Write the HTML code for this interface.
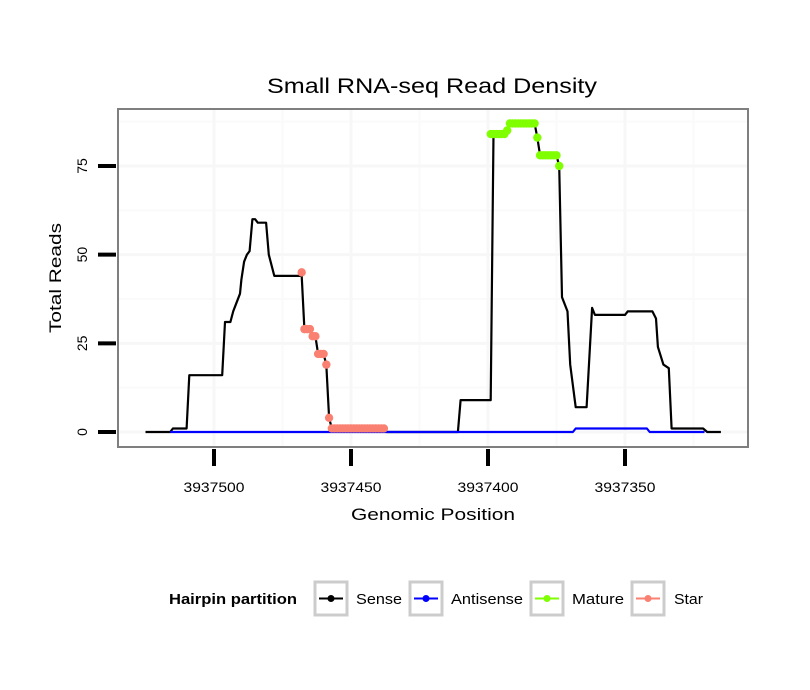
<!DOCTYPE html>
<html><head><meta charset="utf-8"><style>
body{margin:0;background:#fff;width:810px;height:690px;overflow:hidden}
svg{display:block;font-family:"Liberation Sans",sans-serif}
</style></head><body>
<svg id="chart" width="810" height="690">
<rect x="0" y="0" width="810" height="690" fill="#fff"/>
<text x="432" y="93" text-anchor="middle" font-size="21" textLength="330" lengthAdjust="spacingAndGlyphs" fill="#000">Small RNA-seq Read Density</text>
<text x="433" y="520" text-anchor="middle" font-size="17" textLength="164" lengthAdjust="spacingAndGlyphs" fill="#000">Genomic Position</text>
<text transform="translate(61,278) rotate(-90)" text-anchor="middle" font-size="17" textLength="110" lengthAdjust="spacingAndGlyphs" fill="#000">Total Reads</text>
<g id="legend">
<text x="169" y="604" font-size="14.5" font-weight="bold" textLength="128" lengthAdjust="spacingAndGlyphs">Hairpin partition</text>
</g>
</svg>
<script>
const senseX=[3937525,3937516,3937515,3937510,3937509,3937497,3937496,3937494,3937493,3937492,3937490.5,3937490,3937489,3937488,3937487,3937486,3937485,3937484,3937481,3937480,3937478,3937468,3937467,3937465,3937464,3937463,3937462,3937460,3937459,3937458,3937457,3937438,3937437,3937411,3937410,3937399,3937398,3937393,3937392,3937383,3937382,3937381,3937375,3937374,3937373,3937371,3937370,3937368,3937364,3937362,3937361,3937350,3937349,3937340,3937338.7,3937338,3937336,3937334,3937333,3937321.5,3937320,3937315];
const senseY=[0,0,1,1,16,16,31,31,34,36,39,43,48,50,51,60,60,59,59,50,44,44,29,29,27,27,22,22,19,4,1,1,0,0,9,9,84,84,87,87,83,78,78,75,38,34,19,7,7,35,33,33,34,34,32,24,19,18,1,1,0,0];
const antiX=[3937516,3937369,3937368,3937342,3937341,3937321];
const antiY=[0,0,1,1,0,0];
const starX=[3937468,3937467,3937466,3937465,3937464,3937463,3937462,3937461,3937460,3937459,3937458,3937457,3937456,3937455,3937454,3937453,3937452,3937451,3937450,3937449,3937448,3937447,3937446,3937445,3937444,3937443,3937442,3937441,3937440,3937439,3937438];
const starY=[45,29,29,29,27,27,22,22,22,19,4,1,1,1,1,1,1,1,1,1,1,1,1,1,1,1,1,1,1,1,1];
const matX=[3937399,3937398,3937397,3937396,3937395,3937394,3937393,3937392,3937391,3937390,3937389,3937388,3937387,3937386,3937385,3937384,3937383,3937382,3937381,3937380,3937379,3937378,3937377,3937376,3937375,3937374];
const matY=[84,84,84,84,84,84,85,87,87,87,87,87,87,87,87,87,87,83,78,78,78,78,78,78,78,75];
const xTicks=[3937500,3937450,3937400,3937350];
const xMinor=[3937475,3937425,3937375,3937325];
const yTicks=[0,25,50,75];
const yMinor=[12.5,37.5,62.5,87.5];

const NS='http://www.w3.org/2000/svg';
const svg=document.getElementById('chart');
const P={l:118,r:748,t:109,b:447};
function sx(p){return 214+(3937500-p)*2.74;}
function sy(v){return 432-v*3.547;}
function mk(tag,attrs,parent){const e=document.createElementNS(NS,tag);for(const k in attrs)e.setAttribute(k,attrs[k]);(parent||svg).appendChild(e);return e;}

const panel=mk('rect',{x:P.l,y:P.t,width:P.r-P.l,height:P.b-P.t,fill:'#fff'});


const grid=mk('g',{});


yMinor.forEach(v=>{mk('line',{x1:P.l,x2:P.r,y1:sy(v),y2:sy(v),stroke:'#fafafa','stroke-width':2},grid);});
xMinor.forEach(v=>{mk('line',{y1:P.t,y2:P.b,x1:sx(v),x2:sx(v),stroke:'#fafafa','stroke-width':2},grid);});
yTicks.forEach(v=>{mk('line',{x1:P.l,x2:P.r,y1:sy(v),y2:sy(v),stroke:'#f7f7f7','stroke-width':3},grid);});
xTicks.forEach(v=>{mk('line',{y1:P.t,y2:P.b,x1:sx(v),x2:sx(v),stroke:'#f7f7f7','stroke-width':3},grid);});

function line(xs,ys,color,name){
  const d=xs.map((x,i)=>(i?'L':'M')+sx(x).toFixed(1)+','+sy(ys[i]).toFixed(1)).join('');
  const p=mk('path',{d:d,fill:'none',stroke:color,'stroke-width':2.2,'stroke-linejoin':'round'});
  
  
}
function dots(xs,ys,color,name){
  const g=mk('g',{});
  
  
  xs.forEach((x,i)=>{const c=mk('circle',{cx:sx(x),cy:sy(ys[i]),r:4.2,fill:color},g);
    
    });
}
line(senseX,senseY,'#000','sense-line');
line(antiX,antiY,'#0000ff','antisense-line');
dots(starX,starY,'#fa8072','star-points');
dots(matX,matY,'#7fff00','mature-points');

const border=mk('rect',{x:P.l,y:P.t,width:P.r-P.l,height:P.b-P.t,fill:'none',stroke:'#7f7f7f','stroke-width':2});



yTicks.forEach(v=>{
  const t=mk('line',{x1:98,x2:116,y1:sy(v),y2:sy(v),stroke:'#000','stroke-width':4});
  
  
  const l=mk('text',{transform:'translate(87,'+sy(v)+') rotate(-90)','text-anchor':'middle','font-size':14});
  l.textContent=v;
  
  
});
xTicks.forEach(v=>{
  const t=mk('line',{x1:sx(v),x2:sx(v),y1:449,y2:466,stroke:'#000','stroke-width':4});
  
  
  const l=mk('text',{x:sx(v),y:492,'text-anchor':'middle','font-size':14,textLength:61,lengthAdjust:'spacingAndGlyphs'});
  l.textContent=v;
  
  
});

const legend=document.getElementById('legend');
const keys=[['Sense','#000',315,356,46],['Antisense','#0000ff',410,451,72],['Mature','#7fff00',531,572,52],['Star','#fa8072',632,674,29]];
keys.forEach(k=>{
  const g=mk('g',{},legend);
  
  
  mk('rect',{x:k[2],y:582,width:32,height:33,fill:'#fff',stroke:'#cccccc','stroke-width':3},g);
  mk('line',{x1:k[2]+4,x2:k[2]+28,y1:598.5,y2:598.5,stroke:k[1],'stroke-width':2},g);
  mk('circle',{cx:k[2]+16,cy:598.5,r:3.5,fill:k[1]},g);
  const t=mk('text',{x:k[3],y:604,'font-size':15,textLength:k[4],lengthAdjust:'spacingAndGlyphs'},g);
  t.textContent=k[0];
});
</script>
</body></html>
